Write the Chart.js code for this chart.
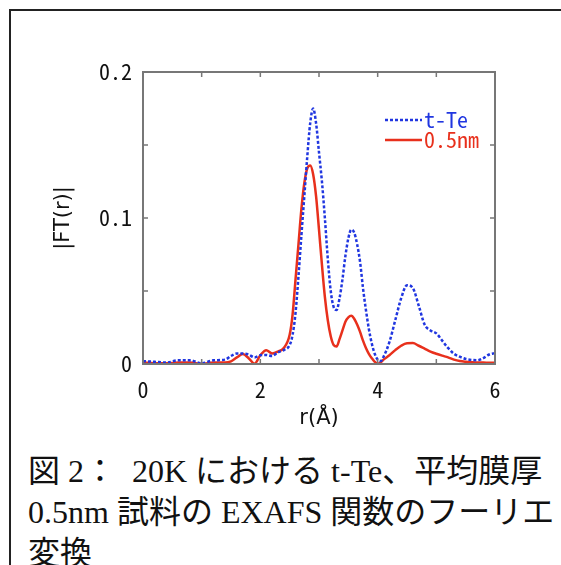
<!DOCTYPE html>
<html lang="ja">
<head>
    <meta charset="UTF-8">
    <title>EXAFS FT</title>
    <script src="https://cdn.jsdelivr.net/npm/chart.js"></script>
    <style>
        * {
            margin: 0;
            padding: 0;
            box-sizing: border-box;
        }
        body {
            width: 561px;
            height: 565px;
            background: #fff;
            overflow: hidden;
            position: relative;
        }
        .frame {
            position: absolute;
            left: 9px;
            top: 9px;
            width: 620px;
            height: 620px;
            border: 2px solid #222;
        }
        .chart-box {
            position: absolute;
            left: 0;
            top: 0;
            width: 561px;
            height: 440px;
        }
        .caption {
            position: absolute;
            left: 28px;
            top: 451px;
            font-family: 'Liberation Serif', 'Noto Sans CJK JP', serif;
            font-size: 32px;
            line-height: 41px;
            color: #111;
            white-space: pre;
        }
    </style>
</head>
<body>
    <div class="frame"></div>
    <div class="chart-box">
        <canvas id="ftChart"></canvas>
    </div>
    <div class="caption">図 2：  20K における t-Te、平均膜厚
0.5nm 試料の EXAFS 関数のフーリエ
変換</div>

    <script>
        // r (Å) の値
        const rValues = [
            0, 0.2, 0.4, 0.6, 0.8, 1.0, 1.2, 1.4, 1.5, 1.6, 1.7, 1.8, 1.9, 2.0,
            2.1, 2.2, 2.3, 2.4, 2.5, 2.55, 2.6, 2.65, 2.7, 2.75, 2.8, 2.85, 2.9,
            2.95, 3.0, 3.05, 3.1, 3.15, 3.2, 3.25, 3.3, 3.35, 3.4, 3.45, 3.5,
            3.55, 3.6, 3.65, 3.7, 3.75, 3.8, 3.85, 3.9, 3.95, 4.0, 4.05, 4.1,
            4.2, 4.3, 4.4, 4.5, 4.6, 4.7, 4.8, 4.9, 5.0, 5.1, 5.2, 5.3, 5.4,
            5.5, 5.6, 5.7, 5.8, 5.9, 6.0
        ];
        // t-Te の |FT(r)|
        const tTe = [
            0.002, 0.0015, 0.001, 0.0025, 0.0025, 0.0005, 0.0025, 0.003, 0.0055, 0.0072, 0.0072, 0.0065, 0.0045, 0.006,
            0.0062, 0.0055, 0.008, 0.0095, 0.013, 0.02, 0.035, 0.06, 0.088, 0.115, 0.142, 0.165, 0.175,
            0.165, 0.145, 0.125, 0.1, 0.072, 0.05, 0.039, 0.037, 0.045, 0.058, 0.074, 0.086,
            0.092, 0.09, 0.082, 0.07, 0.052, 0.037, 0.024, 0.014, 0.007, 0.003, 0.002, 0.005,
            0.015, 0.03, 0.045, 0.054, 0.052, 0.04, 0.027, 0.023, 0.021, 0.016, 0.011, 0.007, 0.005,
            0.0035, 0.0028, 0.0026, 0.004, 0.0065, 0.0075
        ];
        // 平均膜厚 0.5nm 試料の |FT(r)|
        const film05 = [
            0.001, 0.0005, 0.0005, 0.001, 0.001, 0.0002, 0.001, 0.001, 0.0018, 0.0045, 0.0068, 0.004, 0.0002, 0.006,
            0.0095, 0.0072, 0.0085, 0.011, 0.02, 0.034, 0.058, 0.082, 0.106, 0.124, 0.134, 0.136, 0.13,
            0.115, 0.092, 0.068, 0.046, 0.03, 0.019, 0.013, 0.012, 0.017, 0.023, 0.029, 0.032,
            0.033, 0.031, 0.027, 0.022, 0.016, 0.011, 0.007, 0.004, 0.0015, 0.0002, 0.001, 0.003,
            0.006, 0.0095, 0.0125, 0.0142, 0.0143, 0.0125, 0.0105, 0.0085, 0.007, 0.0057, 0.0045, 0.003, 0.002,
            0.0015, 0.0012, 0.001, 0.001, 0.0008, 0.0008
        ];
        const seriesNames = ['t-Te', '0.5nm'];
        const xLabelTicks = [0, 2, 4, 6];
        const yLabelTicks = [0, 0.1, 0.2];

        const tickFont = "'Noto Sans Mono CJK JP', 'DejaVu Sans Mono', monospace";

        function toPoints(ys) {
            return rValues.map((r, i) => ({ x: r, y: ys[i] }));
        }

        // 枠と内向きの目盛り、凡例
        const framePlugin = {
            id: 'framePlugin',
            afterDatasetsDraw(chart) {
                const { ctx, chartArea: a, scales } = chart;
                ctx.save();
                ctx.strokeStyle = '#777';
                ctx.lineWidth = 2;
                ctx.strokeRect(a.left, a.top, a.right - a.left, a.bottom - a.top);
                ctx.lineWidth = 1.5;
                const len = 5;
                scales.x.ticks.forEach(t => {
                    const px = scales.x.getPixelForValue(t.value);
                    ctx.beginPath();
                    ctx.moveTo(px, a.bottom); ctx.lineTo(px, a.bottom - len);
                    ctx.moveTo(px, a.top); ctx.lineTo(px, a.top + len);
                    ctx.stroke();
                });
                scales.y.ticks.forEach(t => {
                    const py = scales.y.getPixelForValue(t.value);
                    ctx.beginPath();
                    ctx.moveTo(a.left, py); ctx.lineTo(a.left + len, py);
                    ctx.moveTo(a.right, py); ctx.lineTo(a.right - len, py);
                    ctx.stroke();
                });

                // 凡例
                ctx.font = '22px ' + tickFont;
                ctx.textBaseline = 'middle';
                chart.data.datasets.forEach((ds, i) => {
                    const y = 120 + i * 20;
                    ctx.strokeStyle = ds.borderColor;
                    ctx.lineWidth = ds.borderWidth;
                    ctx.setLineDash(ds.borderDash || []);
                    ctx.beginPath();
                    ctx.moveTo(385, y);
                    ctx.lineTo(422, y);
                    ctx.stroke();
                    ctx.setLineDash([]);
                    ctx.fillStyle = ds.borderColor;
                    ctx.fillText(ds.label, 424, y);
                });
                ctx.restore();
            }
        };

        const ctx = document.getElementById('ftChart').getContext('2d');
        new Chart(ctx, {
            type: 'line',
            data: {
                datasets: [{
                    label: seriesNames[0],
                    data: toPoints(tTe),
                    borderColor: '#2036e0',
                    borderWidth: 2.5,
                    borderDash: [3, 2],
                    pointRadius: 0,
                    cubicInterpolationMode: 'monotone'
                }, {
                    label: seriesNames[1],
                    data: toPoints(film05),
                    borderColor: '#e8301c',
                    borderWidth: 2.5,
                    pointRadius: 0,
                    cubicInterpolationMode: 'monotone'
                }]
            },
            options: {
                responsive: true,
                maintainAspectRatio: false,
                animation: false,
                layout: {
                    padding: { top: 72, right: 66, left: 0, bottom: 0 }
                },
                plugins: {
                    legend: { display: false },
                    tooltip: { enabled: false }
                },
                scales: {
                    x: {
                        type: 'linear',
                        min: 0,
                        max: 6,
                        grid: { display: false, drawTicks: false },
                        border: { display: false },
                        afterFit: (scale) => { scale.height = 76; },
                        ticks: {
                            stepSize: 1,
                            padding: 12,
                            color: '#111',
                            font: { size: 22, family: tickFont },
                            callback: (v) => xLabelTicks.includes(v) ? String(v) : ''
                        },
                        title: {
                            display: true,
                            text: 'r(Å)',
                            color: '#111',
                            font: { size: 21, family: "'DejaVu Sans', sans-serif" },
                            padding: { top: 0, bottom: 9 }
                        }
                    },
                    y: {
                        min: 0,
                        max: 0.2,
                        grid: { display: false, drawTicks: false },
                        border: { display: false },
                        afterFit: (scale) => { scale.width = 143; },
                        ticks: {
                            stepSize: 0.05,
                            padding: 11,
                            color: '#111',
                            font: { size: 22, family: tickFont },
                            callback: (v) => {
                                const r = Math.round(v * 100) / 100;
                                return yLabelTicks.includes(r) ? String(r) : '';
                            }
                        },
                        title: {
                            display: true,
                            text: '|FT(r)|',
                            color: '#111',
                            font: { size: 21, family: "'DejaVu Sans', sans-serif" },
                            padding: { top: 51, bottom: 0 }
                        }
                    }
                }
            },
            plugins: [framePlugin]
        });
    </script>
</body>
</html>
